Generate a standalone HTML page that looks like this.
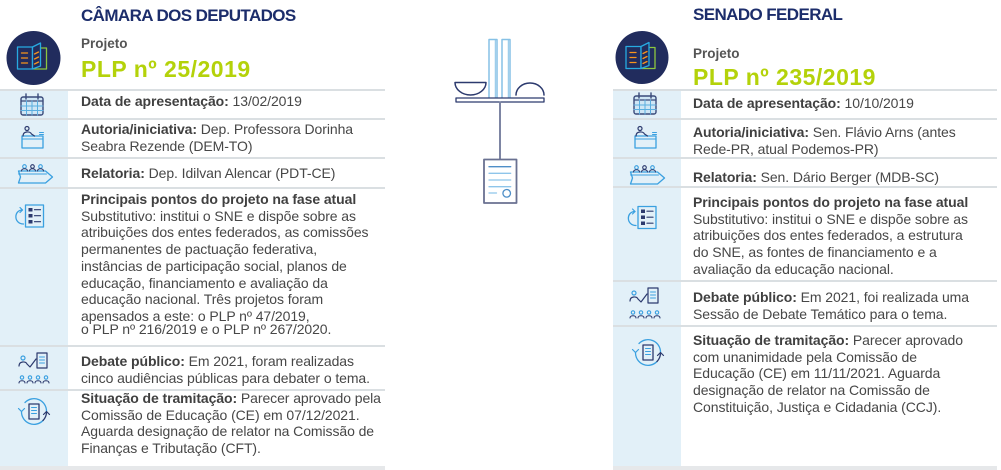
<!DOCTYPE html>
<html><head><meta charset="utf-8">
<style>
*{margin:0;padding:0;box-sizing:border-box}
body{width:1001px;height:470px;background:#fff;position:relative;overflow:hidden;font-family:"Liberation Sans",Arial,sans-serif;color:#444}
.a{position:absolute;white-space:nowrap}
.col{position:absolute;background:#e2f0f8}
.sep{position:absolute;height:2px;background:#dadfe2}
.h{font-weight:bold;font-size:17px;line-height:20px;letter-spacing:-0.6px;color:#1c2d6b}
.pj{font-weight:bold;font-size:13.5px;line-height:16px;color:#555}
.plp{font-weight:bold;font-size:23px;line-height:28px;letter-spacing:0.5px;color:#b4d20a}
.t{font-size:14px;line-height:16.7px;letter-spacing:-0.08px;color:#474747}
.t b{color:#404040}
svg{position:absolute;left:0;top:0}
</style></head><body>

<div class="col" style="left:0;top:90px;width:68px;height:376px"></div>
<div class="col" style="left:613px;top:90px;width:68px;height:376px"></div>

<!-- left separators -->
<div class="sep" style="left:0;width:385px;top:89px"></div>
<div class="sep" style="left:0;width:385px;top:118px"></div>
<div class="sep" style="left:0;width:385px;top:157px"></div>
<div class="sep" style="left:0;width:385px;top:187px"></div>
<div class="sep" style="left:0;width:385px;top:345px"></div>
<div class="sep" style="left:0;width:385px;top:389px"></div>
<div class="sep" style="left:0;width:385px;top:466px;height:4px;background:#e6e8ea"></div>
<!-- right separators -->
<div class="sep" style="left:613px;width:384px;top:89px"></div>
<div class="sep" style="left:613px;width:384px;top:118px"></div>
<div class="sep" style="left:613px;width:384px;top:157px"></div>
<div class="sep" style="left:613px;width:384px;top:186px"></div>
<div class="sep" style="left:613px;width:384px;top:280px"></div>
<div class="sep" style="left:613px;width:384px;top:325px"></div>
<div class="sep" style="left:613px;width:384px;top:466px;height:4px;background:#e6e8ea"></div>

<!-- left header -->
<div class="a h" style="left:81px;top:6px">CÂMARA DOS DEPUTADOS</div>
<div class="a pj" style="left:81px;top:36px">Projeto</div>
<div class="a plp" style="left:81px;top:55px">PLP nº 25/2019</div>
<!-- right header -->
<div class="a h" style="left:693px;top:5px">SENADO FEDERAL</div>
<div class="a pj" style="left:693px;top:46px">Projeto</div>
<div class="a plp" style="left:693px;top:63px">PLP nº 235/2019</div>

<!-- left texts -->
<div class="a t" style="left:81px;top:93px"><b>Data de apresentação:</b> 13/02/2019</div>
<div class="a t" style="left:81px;top:121px"><b>Autoria/iniciativa:</b> Dep. Professora Dorinha<br>Seabra Rezende (DEM-TO)</div>
<div class="a t" style="left:81px;top:165px"><b>Relatoria:</b> Dep. Idilvan Alencar (PDT-CE)</div>
<div class="a t" style="left:81px;top:191px"><b>Principais pontos do projeto na fase atual</b><br>Substitutivo: institui o SNE e dispõe sobre as<br>atribuições dos entes federados, as comissões<br>permanentes de pactuação federativa,<br>instâncias de participação social, planos de<br>educação, financiamento e avaliação da<br>educação nacional. Três projetos foram<br>apensados a este: o PLP nº 47/2019,<div style="margin-top:-4px">o PLP nº 216/2019 e o PLP nº 267/2020.</div></div>
<div class="a t" style="left:81px;top:353px"><b>Debate público:</b> Em 2021, foram realizadas<br>cinco audiências públicas para debater o tema.</div>
<div class="a t" style="left:81px;top:390px"><b>Situação de tramitação:</b> Parecer aprovado pela<br>Comissão de Educação (CE) em 07/12/2021.<br>Aguarda designação de relator na Comissão de<br>Finanças e Tributação (CFT).</div>

<!-- right texts -->
<div class="a t" style="left:693px;top:95px"><b>Data de apresentação:</b> 10/10/2019</div>
<div class="a t" style="left:693px;top:124px"><b>Autoria/iniciativa:</b> Sen. Flávio Arns (antes<br>Rede-PR, atual Podemos-PR)</div>
<div class="a t" style="left:693px;top:169px"><b>Relatoria:</b> Sen. Dário Berger (MDB-SC)</div>
<div class="a t" style="left:693px;top:194px"><b>Principais pontos do projeto na fase atual</b><br>Substitutivo: institui o SNE e dispõe sobre as<br>atribuições dos entes federados, a estrutura<br>do SNE, as fontes de financiamento e a<br>avaliação da educação nacional.</div>
<div class="a t" style="left:693px;top:289px"><b>Debate público:</b> Em 2021, foi realizada uma<br>Sessão de Debate Temático para o tema.</div>
<div class="a t" style="left:693px;top:332px"><b>Situação de tramitação:</b> Parecer aprovado<br>com unanimidade pela Comissão de<br>Educação (CE) em 11/11/2021. Aguarda<br>designação de relator na Comissão de<br>Constituição, Justiça e Cidadania (CCJ).</div>

<svg width="1001" height="470" viewBox="0 0 1001 470" fill="none" stroke-linecap="round" stroke-linejoin="round">
  <!-- book icons -->
  <g transform="translate(33.5,58)">
    <circle r="27" fill="#212c5d"/>
    <polyline points="7,-10 13,-10 13,11 0,11" stroke="#8dc63f" stroke-width="1.3"/>
    <rect x="-16" y="-11" width="15" height="22" stroke="#27aae1" stroke-width="1.3"/>
    <path d="M-1 -11 L7 -15 L7 8 L-1 11 Z" stroke="#27aae1" stroke-width="1.3" fill="#212c5d"/>
    <path d="M-12 -5 H-6 M-12 0 H-6 M-12 5 H-6 M1 -4 L5 -6 M1 1 L5 -1 M1 6 L5 4" stroke="#f7941d" stroke-width="1.3"/>
  </g>
  <g transform="translate(642,57.5)">
    <circle r="26.5" fill="#212c5d"/>
    <polyline points="7,-10 13,-10 13,11 0,11" stroke="#8dc63f" stroke-width="1.3"/>
    <rect x="-16" y="-11" width="15" height="22" stroke="#27aae1" stroke-width="1.3"/>
    <path d="M-1 -11 L7 -15 L7 8 L-1 11 Z" stroke="#27aae1" stroke-width="1.3" fill="#212c5d"/>
    <path d="M-12 -5 H-6 M-12 0 H-6 M-12 5 H-6 M1 -4 L5 -6 M1 1 L5 -1 M1 6 L5 4" stroke="#f7941d" stroke-width="1.3"/>
  </g>

  <!-- calendar -->
  <g transform="translate(32,105)">
    <rect x="-11" y="-8" width="22" height="18" rx="2" fill="#cfe6f5" stroke="#3a4a7a" stroke-width="1.4"/>
    <path d="M-11 -4 H11" stroke="#3a4a7a" stroke-width="1.2"/>
    <path d="M-5.5 -4 V10 M0 -4 V10 M5.5 -4 V10 M-11 1 H11 M-11 5.5 H11" stroke="#5aaee0" stroke-width="1"/>
    <path d="M-6 -11 V-6 M6 -11 V-6" stroke="#3a4a7a" stroke-width="1.4"/>
  </g>
  <g transform="translate(645,104)">
    <rect x="-11" y="-8" width="22" height="18" rx="2" fill="#cfe6f5" stroke="#3a4a7a" stroke-width="1.4"/>
    <path d="M-11 -4 H11" stroke="#3a4a7a" stroke-width="1.2"/>
    <path d="M-5.5 -4 V10 M0 -4 V10 M5.5 -4 V10 M-11 1 H11 M-11 5.5 H11" stroke="#5aaee0" stroke-width="1"/>
    <path d="M-6 -11 V-6 M6 -11 V-6" stroke="#3a4a7a" stroke-width="1.4"/>
  </g>

  <!-- autoria (podium) -->
  <g transform="translate(32.5,142)">
    <rect x="-10.5" y="-6" width="21" height="12" stroke="#3aa0e0" stroke-width="1.3"/>
    <path d="M-10.5 -3 H10.5" stroke="#3aa0e0" stroke-width="1"/>
    <circle cx="-5.5" cy="-13.5" r="2" stroke="#2c3a6e" stroke-width="1.2"/>
    <path d="M-9.5 -6 C-9.5 -11 -2.5 -11 -1 -8 L2 -6" stroke="#2c3a6e" stroke-width="1.2"/>
    <path d="M7 -9.5 H11 M7 -7.5 H11" stroke="#3aa0e0" stroke-width="1"/>
  </g>
  <g transform="translate(645.5,142)">
    <rect x="-10.5" y="-6" width="21" height="12" stroke="#3aa0e0" stroke-width="1.3"/>
    <path d="M-10.5 -3 H10.5" stroke="#3aa0e0" stroke-width="1"/>
    <circle cx="-5.5" cy="-13.5" r="2" stroke="#2c3a6e" stroke-width="1.2"/>
    <path d="M-9.5 -6 C-9.5 -11 -2.5 -11 -1 -8 L2 -6" stroke="#2c3a6e" stroke-width="1.2"/>
    <path d="M7 -9.5 H11 M7 -7.5 H11" stroke="#3aa0e0" stroke-width="1"/>
  </g>

  <!-- relatoria (arrow banner) -->
  <g transform="translate(35.5,177)">
    <path d="M-17 -6 H10 L17 0 L10 6 H-17 L-15 0 Z" stroke="#3aa0e0" stroke-width="1.3"/>
    <path d="M-17 -3 H11" stroke="#3aa0e0" stroke-width="1"/>
    <circle cx="-11" cy="-10.5" r="1.8" stroke="#3aa0e0" stroke-width="1.1"/>
    <circle cx="-3" cy="-10.5" r="1.8" stroke="#2c3a6e" stroke-width="1.1"/>
    <circle cx="5" cy="-10.5" r="1.8" stroke="#3aa0e0" stroke-width="1.1"/>
    <path d="M-14 -6 C-14 -9 -8 -9 -8 -6 M-6 -6 C-6 -9 0 -9 0 -6 M2 -6 C2 -9 8 -9 8 -6" stroke="#2c3a6e" stroke-width="1.1"/>
  </g>
  <g transform="translate(647.5,178)">
    <path d="M-17 -6 H10 L17 0 L10 6 H-17 L-15 0 Z" stroke="#3aa0e0" stroke-width="1.3"/>
    <path d="M-17 -3 H11" stroke="#3aa0e0" stroke-width="1"/>
    <circle cx="-11" cy="-10.5" r="1.8" stroke="#3aa0e0" stroke-width="1.1"/>
    <circle cx="-3" cy="-10.5" r="1.8" stroke="#2c3a6e" stroke-width="1.1"/>
    <circle cx="5" cy="-10.5" r="1.8" stroke="#3aa0e0" stroke-width="1.1"/>
    <path d="M-14 -6 C-14 -9 -8 -9 -8 -6 M-6 -6 C-6 -9 0 -9 0 -6 M2 -6 C2 -9 8 -9 8 -6" stroke="#2c3a6e" stroke-width="1.1"/>
  </g>

  <!-- principais (checklist) -->
  <g transform="translate(34.5,216)">
    <rect x="-9" y="-11" width="18" height="22" stroke="#3aa0e0" stroke-width="1.3"/>
    <rect x="-6" y="-8" width="4" height="3.5" fill="#2c3a6e"/>
    <rect x="-6" y="-2" width="4" height="3.5" fill="#2c3a6e"/>
    <rect x="-6" y="4" width="4" height="3.5" fill="#2c3a6e"/>
    <path d="M0 -6.3 H6 M0 -0.3 H6 M0 5.7 H6" stroke="#2c3a6e" stroke-width="1.2"/>
    <path d="M-12 -6 C-21 -6 -21 8 -11 8" stroke="#3aa0e0" stroke-width="1.3"/>
    <path d="M-14.5 -8.5 L-12 -6 L-14.5 -3.5" stroke="#3aa0e0" stroke-width="1.2"/>
  </g>
  <g transform="translate(647,217.5)">
    <rect x="-9" y="-11" width="18" height="22" stroke="#3aa0e0" stroke-width="1.3"/>
    <rect x="-6" y="-8" width="4" height="3.5" fill="#2c3a6e"/>
    <rect x="-6" y="-2" width="4" height="3.5" fill="#2c3a6e"/>
    <rect x="-6" y="4" width="4" height="3.5" fill="#2c3a6e"/>
    <path d="M0 -6.3 H6 M0 -0.3 H6 M0 5.7 H6" stroke="#2c3a6e" stroke-width="1.2"/>
    <path d="M-12 -6 C-21 -6 -21 8 -11 8" stroke="#3aa0e0" stroke-width="1.3"/>
    <path d="M-14.5 -8.5 L-12 -6 L-14.5 -3.5" stroke="#3aa0e0" stroke-width="1.2"/>
  </g>

  <!-- debate -->
  <g transform="translate(34,367)">
    <circle cx="-11" cy="-9" r="2" stroke="#3aa0e0" stroke-width="1.2"/>
    <path d="M-15 -1 C-15 -6 -8 -6 -7 -3 L-4 0 L2 -8" stroke="#2c3a6e" stroke-width="1.2"/>
    <rect x="3" y="-14" width="10" height="15" stroke="#2c3a6e" stroke-width="1.2"/>
    <path d="M5.5 -10 H10.5 M5.5 -7 H10.5 M5.5 -4 H10.5" stroke="#3aa0e0" stroke-width="1"/>
    <circle cx="-12" cy="10.5" r="1.7" stroke="#3aa0e0" stroke-width="1.1"/>
    <circle cx="-4" cy="10.5" r="1.7" stroke="#3aa0e0" stroke-width="1.1"/>
    <circle cx="4" cy="10.5" r="1.7" stroke="#3aa0e0" stroke-width="1.1"/>
    <circle cx="12" cy="10.5" r="1.7" stroke="#3aa0e0" stroke-width="1.1"/>
    <path d="M-15 16 C-15 13 -9 13 -9 16 M-7 16 C-7 13 -1 13 -1 16 M1 16 C1 13 7 13 7 16 M9 16 C9 13 15 13 15 16" stroke="#2c3a6e" stroke-width="1.1"/>
  </g>
  <g transform="translate(645,302)">
    <circle cx="-11" cy="-9" r="2" stroke="#3aa0e0" stroke-width="1.2"/>
    <path d="M-15 -1 C-15 -6 -8 -6 -7 -3 L-4 0 L2 -8" stroke="#2c3a6e" stroke-width="1.2"/>
    <rect x="3" y="-14" width="10" height="15" stroke="#2c3a6e" stroke-width="1.2"/>
    <path d="M5.5 -10 H10.5 M5.5 -7 H10.5 M5.5 -4 H10.5" stroke="#3aa0e0" stroke-width="1"/>
    <circle cx="-12" cy="10.5" r="1.7" stroke="#3aa0e0" stroke-width="1.1"/>
    <circle cx="-4" cy="10.5" r="1.7" stroke="#3aa0e0" stroke-width="1.1"/>
    <circle cx="4" cy="10.5" r="1.7" stroke="#3aa0e0" stroke-width="1.1"/>
    <circle cx="12" cy="10.5" r="1.7" stroke="#3aa0e0" stroke-width="1.1"/>
    <path d="M-15 16 C-15 13 -9 13 -9 16 M-7 16 C-7 13 -1 13 -1 16 M1 16 C1 13 7 13 7 16 M9 16 C9 13 15 13 15 16" stroke="#2c3a6e" stroke-width="1.1"/>
  </g>

  <!-- situacao -->
  <g transform="translate(34,411.5)">
    <path d="M-9 -9 A12.5 12.5 0 0 1 12.5 0" stroke="#3aa0e0" stroke-width="1.3"/>
    <path d="M-12.5 0 A12.5 12.5 0 0 0 9 9" stroke="#3aa0e0" stroke-width="1.3"/>
    <path d="M9 9 A12.5 12.5 0 0 0 12.5 1" stroke="#2c3a6e" stroke-width="1.3"/>
    <path d="M9.5 3 L12.5 0 L15.5 3" stroke="#2c3a6e" stroke-width="1.2"/>
    <path d="M-15.5 -3 L-12.5 0 L-9.5 -3" stroke="#3aa0e0" stroke-width="1.2"/>
    <rect x="-5" y="-7.5" width="10" height="15" stroke="#2c3a6e" stroke-width="1.3"/>
    <path d="M-2.5 -4 H2.5 M-2.5 -1 H2.5 M-2.5 2 H2.5" stroke="#3aa0e0" stroke-width="1"/>
  </g>
  <g transform="translate(648,352.5)">
    <path d="M-9 -9 A12.5 12.5 0 0 1 12.5 0" stroke="#3aa0e0" stroke-width="1.3"/>
    <path d="M-12.5 0 A12.5 12.5 0 0 0 9 9" stroke="#3aa0e0" stroke-width="1.3"/>
    <path d="M9 9 A12.5 12.5 0 0 0 12.5 1" stroke="#2c3a6e" stroke-width="1.3"/>
    <path d="M9.5 3 L12.5 0 L15.5 3" stroke="#2c3a6e" stroke-width="1.2"/>
    <path d="M-15.5 -3 L-12.5 0 L-9.5 -3" stroke="#3aa0e0" stroke-width="1.2"/>
    <rect x="-5" y="-7.5" width="10" height="15" stroke="#2c3a6e" stroke-width="1.3"/>
    <path d="M-2.5 -4 H2.5 M-2.5 -1 H2.5 M-2.5 2 H2.5" stroke="#3aa0e0" stroke-width="1"/>
  </g>

  <!-- center diagram -->
  <rect x="489" y="39.5" width="8" height="59" stroke="#86c1e6" stroke-width="1.5"/>
  <path d="M495.3 40 V98" stroke="#86c1e6" stroke-width="1"/>
  <rect x="502" y="39.5" width="8" height="59" stroke="#86c1e6" stroke-width="1.5"/>
  <path d="M508.3 40 V98" stroke="#86c1e6" stroke-width="1"/>
  <path d="M455 82.5 H486 A15.5 12.5 0 0 1 455 82.5" stroke="#2c3a6e" stroke-width="1.5"/>
  <path d="M516 95 A14 12 0 0 1 544 95" stroke="#2c3a6e" stroke-width="1.5"/>
  <rect x="456" y="98" width="88" height="4" stroke="#2c3a6e" stroke-width="1.3" fill="#fff"/>
  <path d="M500 102.5 V159.5" stroke="#7d85a3" stroke-width="2"/>
  <rect x="484" y="159.5" width="32.5" height="43.5" stroke="#6a7191" stroke-width="1.8" fill="#fff"/>
  <path d="M489 166.7 H510.7" stroke="#4f8fc8" stroke-width="1.3"/>
  <path d="M489 173.3 H510.7 M489 180 H510.7 M489 186.7 H510.7 M489 193 H496.5" stroke="#8ec5ea" stroke-width="1.3"/>
  <circle cx="506.7" cy="193.3" r="3.8" stroke="#4f8fc8" stroke-width="1.3"/>
</svg>
</body></html>
